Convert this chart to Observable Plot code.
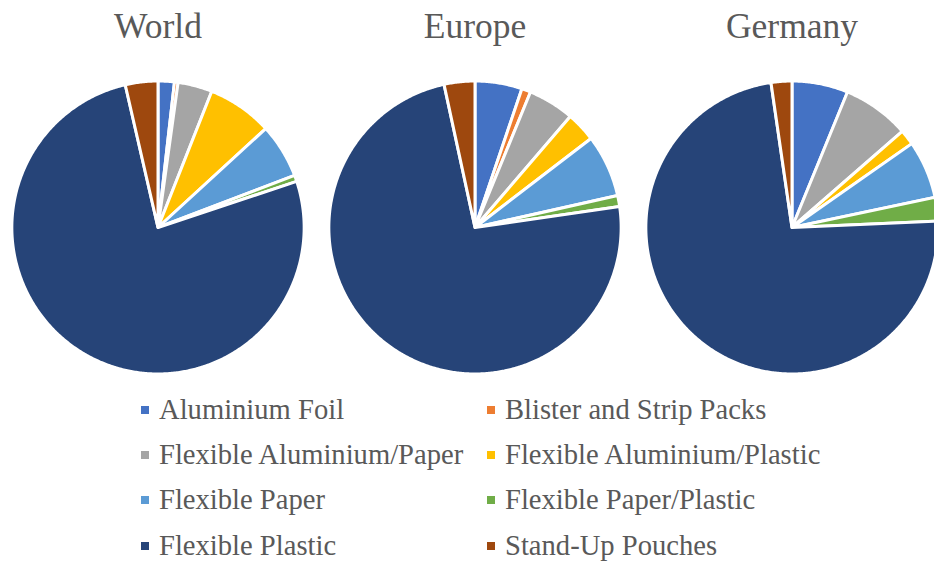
<!DOCTYPE html>
<html><head><meta charset="utf-8">
<script src="https://cdn.jsdelivr.net/npm/d3@7"></script>
<script src="https://cdn.jsdelivr.net/npm/@observablehq/plot@0.6"></script>
<style>
html,body{margin:0;padding:0;background:#fff;overflow:hidden;}
#chart svg{display:block;}
#legend{display:grid;grid-template-columns:346px 420px;margin-left:141px;margin-top:2px;font-family:"Liberation Serif","Times New Roman",serif;font-size:28.6px;color:#595959;}
.item{display:flex;align-items:center;height:45.4px;white-space:nowrap;}
.sw{width:8px;height:8px;margin-right:10px;flex:none;}
</style></head><body>
<div id="chart"></div>
<div id="legend"></div>
<script>
const regions = ["World", "Europe", "Germany"];
const categories = [
  "Aluminium Foil", "Blister and Strip Packs", "Flexible Aluminium/Paper", "Flexible Aluminium/Plastic",
  "Flexible Paper", "Flexible Paper/Plastic", "Flexible Plastic", "Stand-Up Pouches"
];
const colors = ["#4472C4", "#ED7D31", "#A5A5A5", "#FFC000", "#5B9BD5", "#70AD47", "#264478", "#9E480E"];
const worldValues   = [1.8, 0.4, 3.8, 7.2, 6.0, 0.7, 76.5, 3.6];
const europeValues  = [5.2, 1.0, 5.1, 3.3, 6.9, 1.2, 73.9, 3.4];
const germanyValues = [6.2, 0.0, 7.4, 1.7, 6.4, 2.6, 73.4, 2.3];

const valuesByRegion = {World: worldValues, Europe: europeValues, Germany: germanyValues};
const R = 146.5;          // pie radius in x/y units
const B = 317.75;         // facet band width

const points = [];
for (const region of regions) {
  const rows = categories.map((c, i) => ({category: c, v: valuesByRegion[region][i]}));
  const arcs = d3.pie().sort(null).value(d => d.v).startAngle(0).endAngle(2 * Math.PI)(rows);
  arcs.forEach((a, i) => {
    if (a.data.v <= 0) return;
    const id = region + "-" + i;
    points.push({region, category: a.data.category, id, x: 0, y: 0});
    const n = Math.max(2, Math.ceil((a.endAngle - a.startAngle) / (Math.PI / 360)) + 1);
    for (let k = 0; k < n; k++) {
      const t = a.startAngle + (a.endAngle - a.startAngle) * k / (n - 1);
      points.push({region, category: a.data.category, id, x: R * Math.sin(t), y: R * Math.cos(t)});
    }
  });
}

const plot = Plot.plot({
  width: 934,
  height: 385,
  margin: 0,
  fx: {domain: regions, range: [-2.4, -2.4 + 3 * B], padding: 0, axis: null},
  x: {domain: [-B / 2, B / 2], axis: null},
  y: {domain: [-158, 227], axis: null},
  color: {domain: categories, range: colors},
  marks: [
    Plot.line(points, {
      x: "x", y: "y", z: "id", fx: "region", fill: "category",
      stroke: "white", strokeWidth: 3, strokeLinejoin: "round", curve: "linear-closed"
    }),
    Plot.text(regions, {
      fx: d => d, text: d => d, frameAnchor: "top", lineAnchor: "bottom", dy: 37,
      fontSize: 35.5, fontFamily: "Liberation Serif", fill: "#595959"
    })
  ]
});
document.getElementById("chart").appendChild(plot);

const legend = document.getElementById("legend");
categories.forEach((c, i) => {
  const item = document.createElement("div");
  item.className = "item";
  const sw = document.createElement("span");
  sw.className = "sw";
  sw.style.background = colors[i];
  const label = document.createElement("span");
  label.textContent = c;
  item.appendChild(sw);
  item.appendChild(label);
  legend.appendChild(item);
});
</script>
</body></html>
